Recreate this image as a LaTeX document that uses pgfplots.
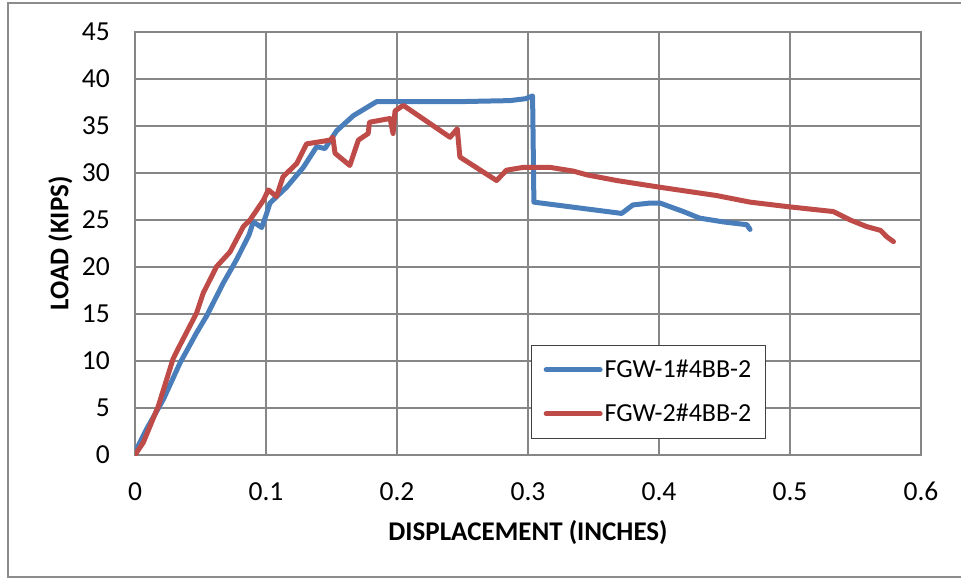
\documentclass[border=0pt]{standalone}
\usepackage{fontspec}
\setmainfont{Carlito}
\usepackage{pgfplots}
\pgfplotsset{compat=1.18}

\definecolor{gridgray}{RGB}{134,134,134}
\definecolor{framegray}{RGB}{140,140,140}
\definecolor{seriesblue}{RGB}{74,126,187}
\definecolor{seriesred}{RGB}{190,75,72}

\begin{document}
\begin{tikzpicture}[x=1pt,y=1pt]
\useasboundingbox (0,0) rectangle (961,579);
\draw[line width=1.6pt, framegray] (8,2) rectangle (985,576);
\begin{axis}[
  at={(135pt,124pt)}, anchor=south west,
  scale only axis, width=786pt, height=423pt,
  xmin=0, xmax=0.6, ymin=0, ymax=45,
  xtick={0,0.1,0.2,0.3,0.4,0.5,0.6},
  ytick={0,5,10,15,20,25,30,35,40,45},
  /pgf/number format/assume math mode=true,
  /pgf/number format/fixed,
  tick style={draw=none},
  grid=major,
  major grid style={line width=1.3pt, gridgray},
  axis line style={line width=1.3pt, gridgray},
  tick label style={font=\fontsize{27.5}{32}\selectfont, text=black},
  yticklabel style={anchor=east, inner sep=0pt, xshift=-25pt},
  xticklabel style={anchor=north, inner sep=0pt, yshift=-27pt},
  xlabel={\textbf{DISPLACEMENT (INCHES)}},
  ylabel={\textbf{LOAD (KIPS)}},
  label style={font=\fontsize{27}{32}\selectfont},
  xlabel style={at={(axis description cs:0.5,-0.183)}, anchor=center},
  ylabel style={at={(axis description cs:-0.095,0.5)}, anchor=center},
  legend style={at={(axis cs:0.3023,11.75)}, anchor=north west,
    draw={rgb,255:red,64;green,64;blue,64}, line width=1.3pt,
    font=\fontsize{26}{30}\selectfont,
    inner xsep=12pt, inner ysep=13pt, row sep=21pt,
    cells={anchor=west}},
  legend image code/.code={\draw[#1, line width=5pt, line cap=round] (0pt,0pt) -- (54pt,0pt);},
  every axis plot/.append style={line width=5pt, line join=round, line cap=round},
]
\addplot[seriesblue] coordinates {
(0,0.3) (0.009,2.8) (0.0216,5.9) (0.0344,9.8) (0.047,13.0) (0.0547,14.8)
(0.0674,18.3) (0.0776,20.8) (0.087,23.4) (0.0903,24.8) (0.0967,24.2)
(0.1005,25.7) (0.103,26.8) (0.1158,28.5) (0.1285,30.6) (0.1387,32.8)
(0.145,32.6) (0.154,34.5) (0.1667,36.1) (0.1845,37.6) (0.25,37.6)
(0.286,37.7) (0.298,37.9) (0.3035,38.2) (0.3045,26.9) (0.3715,25.7)
(0.380,26.6) (0.393,26.8) (0.4008,26.8) (0.4186,25.9) (0.431,25.2)
(0.449,24.8) (0.467,24.5) (0.4695,24.0)
};
\addlegendentry{FGW-1\#4BB-2}
\addplot[seriesred] coordinates {
(0,0) (0.0064,1.35) (0.0178,5.2) (0.029,10.2) (0.034,11.6) (0.047,15.1)
(0.052,17.2) (0.0623,20.05) (0.0725,21.6) (0.0827,24.3) (0.0878,25.0)
(0.098,27.1) (0.1018,28.2) (0.108,27.5) (0.113,29.6) (0.1234,31.0)
(0.131,33.1) (0.149,33.5) (0.151,33.8) (0.1527,32.1) (0.164,30.8)
(0.1705,33.5) (0.178,34.2) (0.179,35.4) (0.1947,35.8) (0.197,34.2)
(0.1985,36.6) (0.2048,37.2) (0.2405,33.8) (0.246,34.7) (0.248,31.7)
(0.276,29.2) (0.2836,30.3) (0.2964,30.6) (0.3168,30.6) (0.3346,30.2)
(0.345,29.8) (0.3677,29.2) (0.40,28.5) (0.444,27.6) (0.4695,26.9)
(0.4995,26.4) (0.533,25.9) (0.546,25.0) (0.5585,24.3) (0.569,23.9)
(0.574,23.2) (0.579,22.7)
};
\addlegendentry{FGW-2\#4BB-2}
\end{axis}
\end{tikzpicture}
\end{document}
